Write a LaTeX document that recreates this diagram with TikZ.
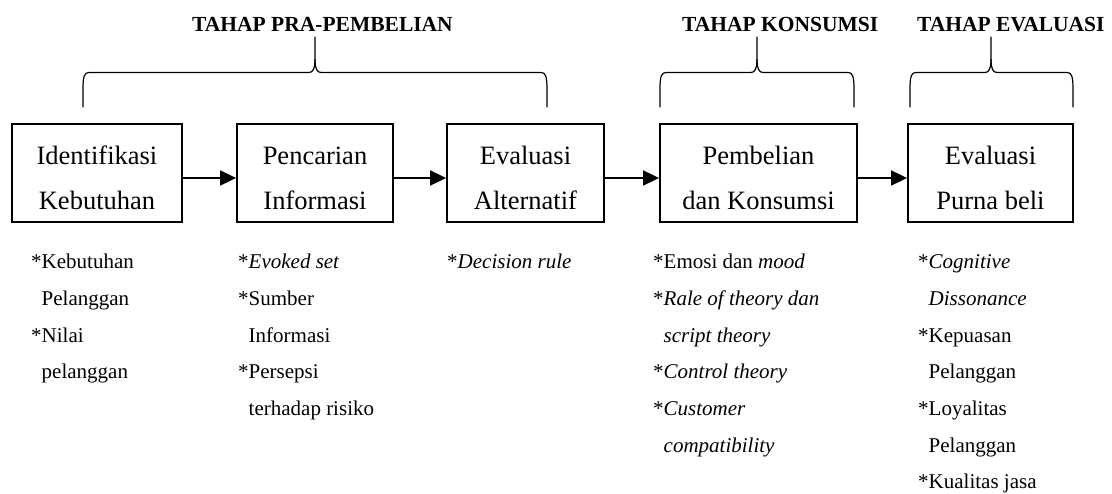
\documentclass[tikz,border=0pt]{standalone}
\usepackage{fontspec}
\setmainfont{Liberation Serif}
\usetikzlibrary{arrows.meta}
\begin{document}
\begin{tikzpicture}[x=1bp,y=-1bp,
  stagebox/.style={draw, line width=1.8bp, minimum width=#1, minimum height=98bp, inner sep=0pt},
  boxtext/.style={inner sep=0pt, anchor=base, font=\fontsize{26.5bp}{30bp}\selectfont},
  listtext/.style={inner sep=0pt, anchor=base west, align=left, font=\fontsize{21bp}{36.6bp}\selectfont},
  stagetitle/.style={inner sep=0pt, anchor=base west, font=\fontsize{21.5bp}{24bp}\selectfont\bfseries},
  flow/.style={line width=1.8bp, -{Triangle[length=16bp,width=15bp]}},
  bracepath/.style={line width=1.2bp, line cap=round}
]
\useasboundingbox (0,0) rectangle (1112,494);

% titles
\node[stagetitle] (h1) at (192,31.5) {TAHAP PRA-PEMBELIAN};
\node[stagetitle] (h2) at (682,31.5) {TAHAP KONSUMSI};
\node[stagetitle] (h3) at (917,31.5) {TAHAP EVALUASI};

% braces
\foreach \L/\C/\R in {83/315/547, 660/757/854, 910/991/1073}{
  \draw[bracepath] (\L,107) -- (\L,89) .. controls (\L,76) and (\L+1.5,72.5) .. (\L+6,72.5)
     -- (\C-6,72.5) .. controls (\C-2,72.5) and (\C,68.5) .. (\C,59.5) -- (\C,37);
  \draw[bracepath] (\R,107) -- (\R,89) .. controls (\R,76) and (\R-1.5,72.5) .. (\R-6,72.5)
     -- (\C+6,72.5) .. controls (\C+2,72.5) and (\C,68.5) .. (\C,59.5);
}

% boxes
\node[stagebox=170bp] (b1) at (97,173) {};
\node[stagebox=156bp] (b2) at (315,173) {};
\node[stagebox=157bp] (b3) at (525.5,173) {};
\node[stagebox=197bp] (b4) at (758.5,173) {};
\node[stagebox=165bp] (b5) at (990.5,173) {};

\node[boxtext] (b1a) at (97,165) {Identifikasi};
\node[boxtext] (b1b) at (97,210) {Kebutuhan};
\node[boxtext] (b2a) at (315,165) {Pencarian};
\node[boxtext] (b2b) at (315,210) {Informasi};
\node[boxtext] (b3a) at (525.5,165) {Evaluasi};
\node[boxtext] (b3b) at (525.5,210) {Alternatif};
\node[boxtext] (b4a) at (758.5,165) {Pembelian};
\node[boxtext] (b4b) at (758.5,210) {dan Konsumsi};
\node[boxtext] (b5a) at (990.5,165) {Evaluasi};
\node[boxtext] (b5b) at (990.5,210) {Purna beli};

% arrows
\draw[flow] ([yshift=-5bp]b1.east) -- ([yshift=-5bp]b2.west);
\draw[flow] ([yshift=-5bp]b2.east) -- ([yshift=-5bp]b3.west);
\draw[flow] ([yshift=-5bp]b3.east) -- ([yshift=-5bp]b4.west);
\draw[flow] ([yshift=-5bp]b4.east) -- ([yshift=-5bp]b5.west);

% lists (anchor base = baseline of the last line; first baseline at y=269)
\node[listtext] (l1) at (31,378.8) {*Kebutuhan\\\phantom{*}Pelanggan\\*Nilai\\\phantom{*}pelanggan};
\node[listtext] (l2) at (238,415.4) {*\textit{Evoked set}\\*Sumber\\\phantom{*}Informasi\\*Persepsi\\\phantom{*}terhadap risiko};
\node[listtext] (l3) at (447,269) {*\textit{Decision rule}};
\node[listtext] (l4) at (653,452) {*Emosi dan \textit{mood}\\*\textit{Rale of theory dan}\\\phantom{*}\textit{script theory}\\*\textit{Control theory}\\*\textit{Customer}\\\phantom{*}\textit{compatibility}};
\node[listtext] (l5) at (918,488.6) {*\textit{Cognitive}\\\phantom{*}\textit{Dissonance}\\*Kepuasan\\\phantom{*}Pelanggan\\*Loyalitas\\\phantom{*}Pelanggan\\*Kualitas jasa};
\end{tikzpicture}
\end{document}
